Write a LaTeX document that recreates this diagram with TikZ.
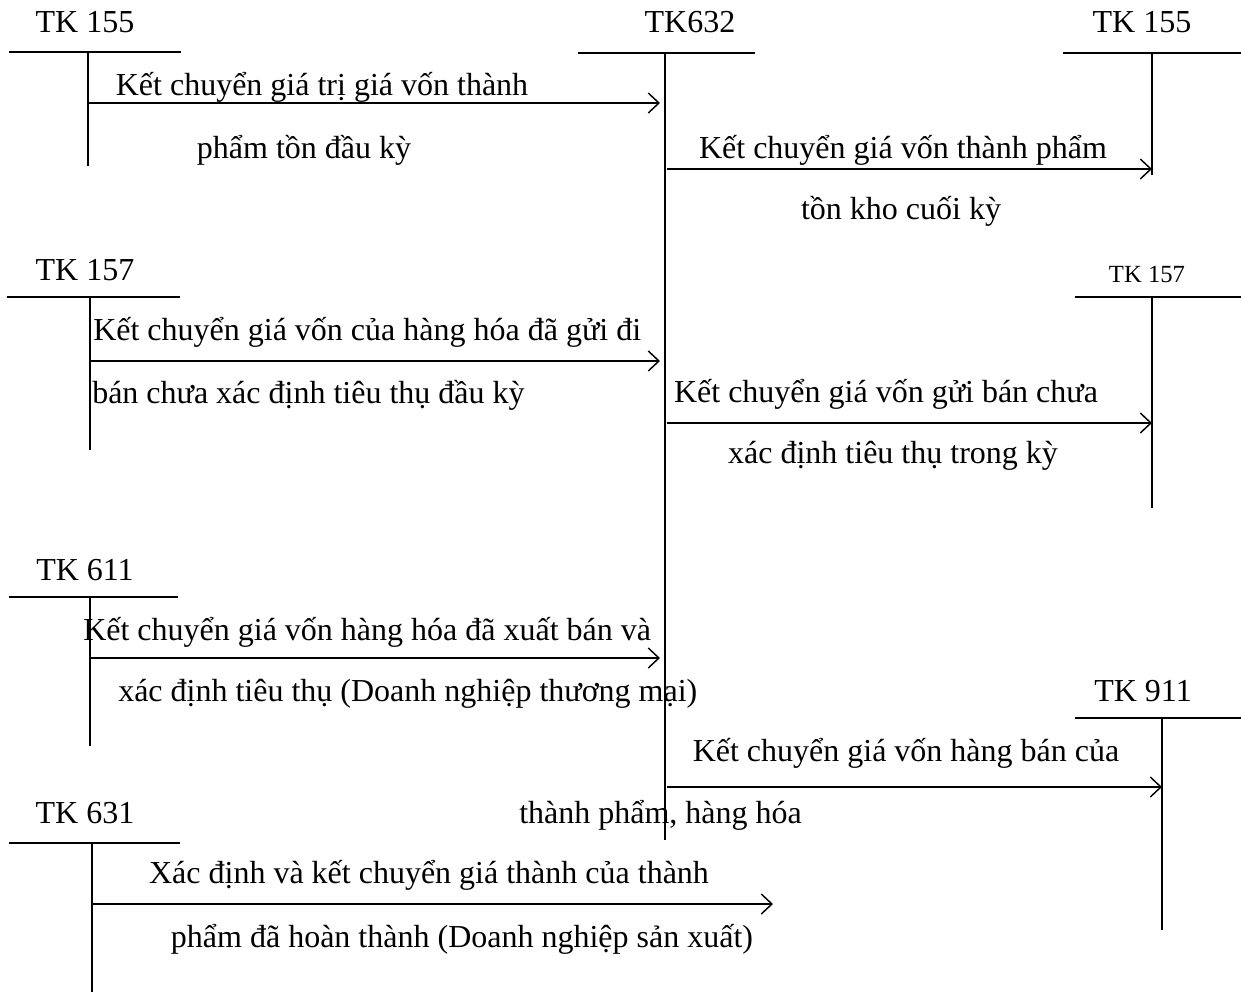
\documentclass[tikz,border=0pt]{standalone}
\usepackage{fontspec}
\setmainfont{Liberation Serif}
\usetikzlibrary{arrows.meta}
\begin{document}
\begin{tikzpicture}[x=0.75pt,y=-0.75pt,
  tline/.style={line width=1pt},
  flow/.style={line width=1.2pt,-{Straight Barb[length=8pt,width=15pt,line width=1.1pt]}},
  txt/.style={inner sep=0,font=\fontsize{24}{28}\selectfont,text height=16pt,text depth=5pt,yshift=-2.2pt},
  small/.style={txt,font=\fontsize{18.5}{22}\selectfont}]
\fill[white] (0,0) rectangle (1241,992);
\useasboundingbox (0,0) rectangle (1241,992);

% ---- T accounts: label, horizontal bar, vertical stem ----
% left column
\node[txt] (tk155a) at (85,22) {TK 155};
\coordinate (t155a-l) at (9,52);   \coordinate (t155a-r) at (181,52);
\coordinate (t155a-t) at (88,52);  \coordinate (t155a-b) at (88,166);
\node[txt] (tk157a) at (85,270) {TK 157};
\coordinate (t157a-l) at (7,297);  \coordinate (t157a-r) at (180,297);
\coordinate (t157a-t) at (90,297); \coordinate (t157a-b) at (90,450);
\node[txt] (tk611) at (85,570) {TK 611};
\coordinate (t611-l) at (9,597);   \coordinate (t611-r) at (178,597);
\coordinate (t611-t) at (90,597);  \coordinate (t611-b) at (90,746);
\node[txt] (tk631) at (85,813) {TK 631};
\coordinate (t631-l) at (9,843);   \coordinate (t631-r) at (180,843);
\coordinate (t631-t) at (92,843);  \coordinate (t631-b) at (92,992);
% centre column
\node[txt] (tk632) at (690,22) {TK632};
\coordinate (t632-l) at (578,53);  \coordinate (t632-r) at (755,53);
\coordinate (t632-t) at (665,53);  \coordinate (t632-b) at (665,840);
% right column
\node[txt] (tk155b) at (1142,22) {TK 155};
\coordinate (t155b-l) at (1063,53); \coordinate (t155b-r) at (1241,53);
\coordinate (t155b-t) at (1152,53); \coordinate (t155b-b) at (1152,175);
\node[small] (tk157b) at (1147,272) {TK 157};
\coordinate (t157b-l) at (1075,297); \coordinate (t157b-r) at (1241,297);
\coordinate (t157b-t) at (1152,297); \coordinate (t157b-b) at (1152,508);
\node[txt] (tk911) at (1143,691) {TK 911};
\coordinate (t911-l) at (1075,718); \coordinate (t911-r) at (1241,718);
\coordinate (t911-t) at (1162,718); \coordinate (t911-b) at (1162,930);

\foreach \a in {t155a,t157a,t611,t631,t632,t155b,t157b,t911}{
  \draw[tline] (\a-l) -- (\a-r);
  \draw[tline] (\a-t) -- (\a-b);
}

% ---- transfer arrows ----
\coordinate (a1s) at (89,103);  \coordinate (a1e) at (660,103);
\coordinate (a2s) at (667,169); \coordinate (a2e) at (1152,169);
\coordinate (a3s) at (90,361);  \coordinate (a3e) at (660,361);
\coordinate (a4s) at (667,423); \coordinate (a4e) at (1152,423);
\coordinate (a5s) at (90,658);  \coordinate (a5e) at (660,658);
\coordinate (a6s) at (667,787); \coordinate (a6e) at (1162,787);
\coordinate (a7s) at (92,904);  \coordinate (a7e) at (773,904);
\foreach \k in {1,...,7}{ \draw[flow] (a\k s) -- (a\k e); }

% ---- arrow captions ----
\node[txt] (c1a) at (322,85)  {Kết chuyển giá trị giá vốn thành};
\node[txt] (c1b) at (304,148) {phẩm tồn đầu kỳ};
\node[txt] (c2a) at (903,148) {Kết chuyển giá vốn thành phẩm};
\node[txt] (c2b) at (901,209) {tồn kho cuối kỳ};
\node[txt,anchor=west] (c3a) at (93,330) {Kết chuyển giá vốn của hàng hóa đã gửi đi};
\node[txt,anchor=west] (c3b) at (92,393) {bán chưa xác định tiêu thụ đầu kỳ};
\node[txt] (c4a) at (886,392) {Kết chuyển giá vốn gửi bán chưa};
\node[txt] (c4b) at (893,453) {xác định tiêu thụ trong kỳ};
\node[txt,anchor=west] (c5a) at (83,630) {Kết chuyển giá vốn hàng hóa đã xuất bán và};
\node[txt,anchor=west] (c5b) at (118,691) {xác định tiêu thụ (Doanh nghiệp thương mại)};
\node[txt] (c6a) at (906,751) {Kết chuyển giá vốn hàng bán của};
\node[txt,anchor=west] (c6b) at (519,813) {thành phẩm, hàng hóa};
\node[txt] (c7a) at (429,873) {Xác định và kết chuyển giá thành của thành};
\node[txt] (c7b) at (462,937) {phẩm đã hoàn thành (Doanh nghiệp sản xuất)};
\end{tikzpicture}
\end{document}
